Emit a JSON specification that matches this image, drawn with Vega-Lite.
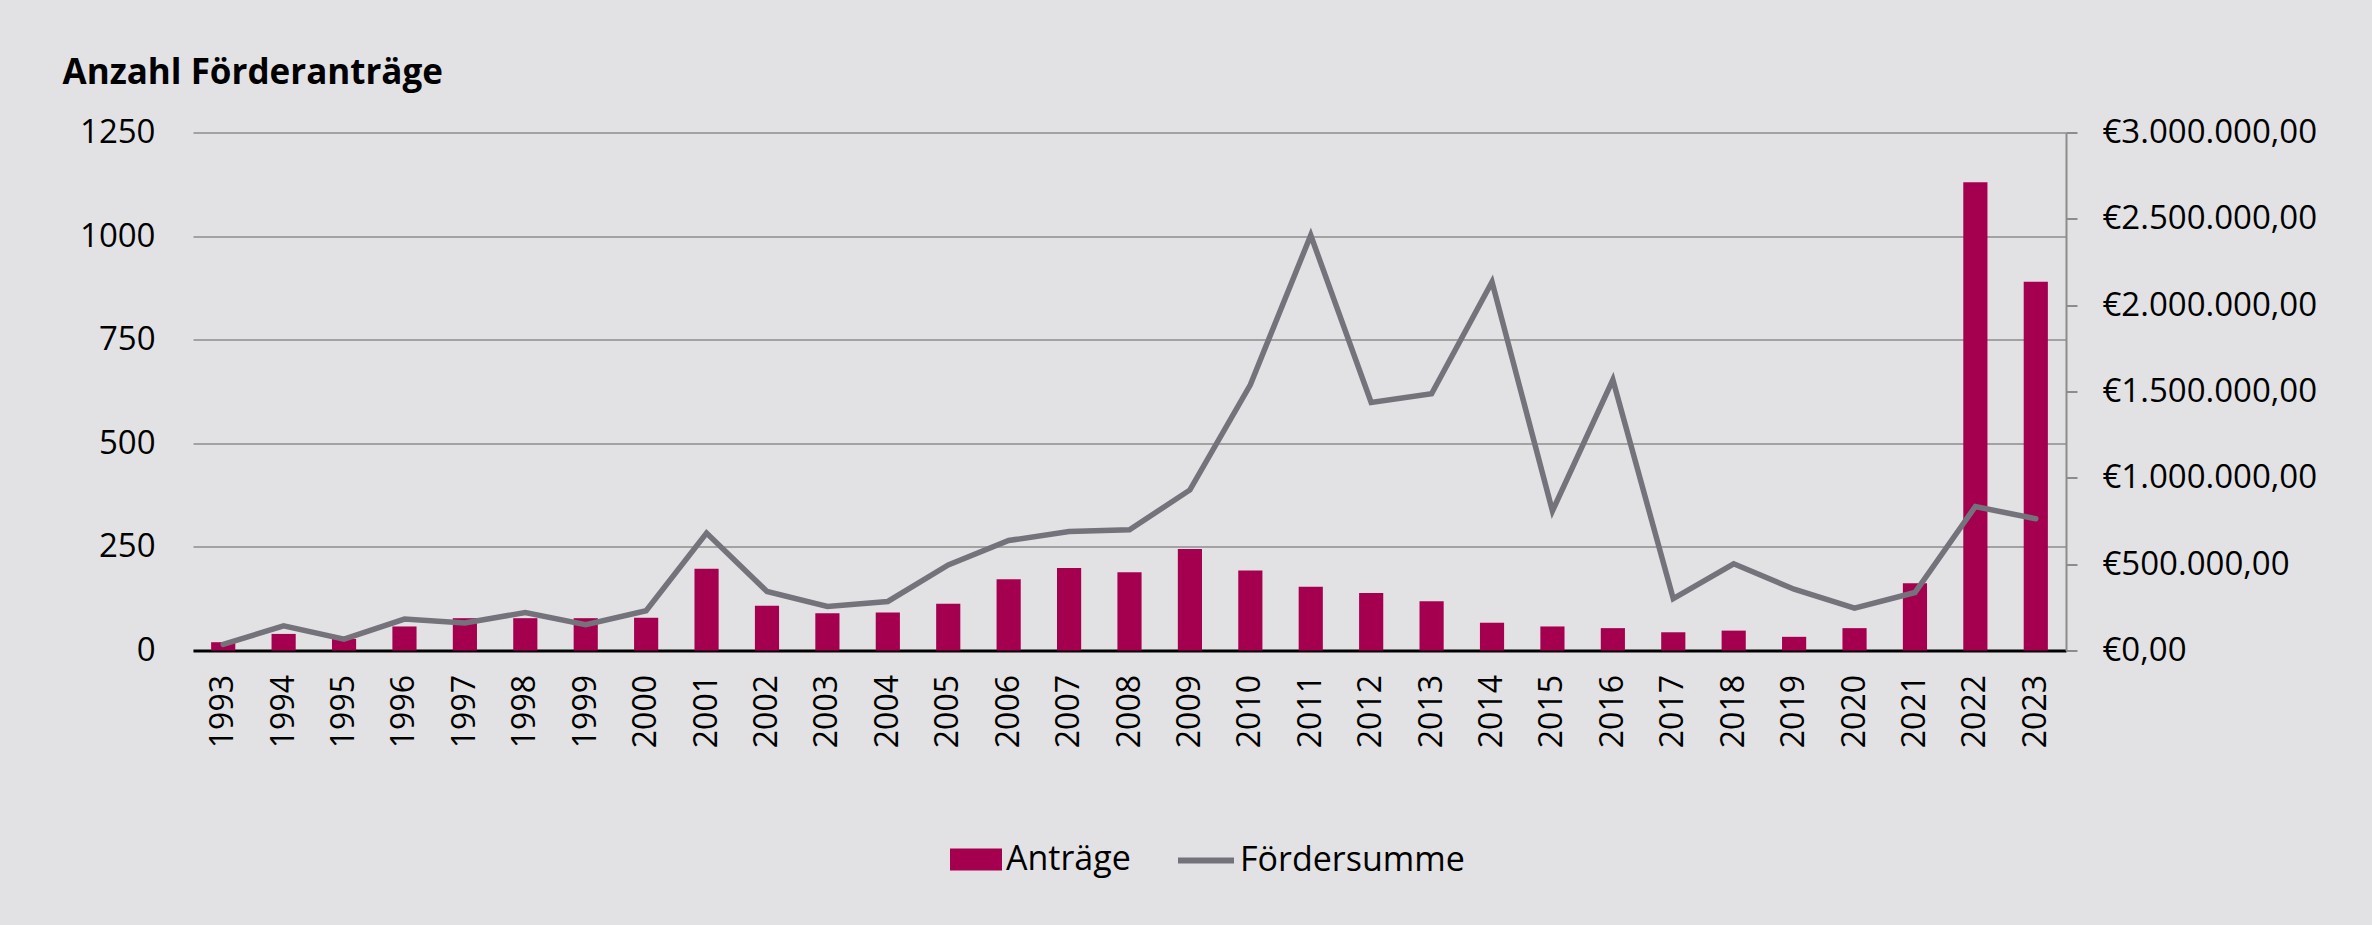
{
  "$schema": "https://vega.github.io/schema/vega-lite/v6.json",
  "width": 1873,
  "height": 518,
  "autosize": {"type": "none"},
  "padding": {"left": 193, "top": 132.5, "right": 306, "bottom": 274.5},
  "background": "#e2e2e4",
  "config": {
    "view": {"stroke": null},
    "font": "Open Sans",
    "locale": {
      "number": {"decimal": ",", "thousands": ".", "grouping": [3], "currency": ["€", ""]}
    },
    "axis": {"labelFont": "Open Sans", "labelColor": "#000000", "titleColor": "#000000", "labelLimit": 400},
    "legend": {"labelFont": "Open Sans", "labelColor": "#000000", "labelLimit": 400}
  },
  "data": {
    "values": [
      {"Jahr": "1993", "Antraege": 20, "Foerdersumme": 35000},
      {"Jahr": "1994", "Antraege": 40, "Foerdersumme": 143000},
      {"Jahr": "1995", "Antraege": 28, "Foerdersumme": 66000},
      {"Jahr": "1996", "Antraege": 58, "Foerdersumme": 182000},
      {"Jahr": "1997", "Antraege": 78, "Foerdersumme": 160000},
      {"Jahr": "1998", "Antraege": 78, "Foerdersumme": 220000},
      {"Jahr": "1999", "Antraege": 78, "Foerdersumme": 150000},
      {"Jahr": "2000", "Antraege": 79, "Foerdersumme": 230000},
      {"Jahr": "2001", "Antraege": 197, "Foerdersumme": 680000},
      {"Jahr": "2002", "Antraege": 108, "Foerdersumme": 342000},
      {"Jahr": "2003", "Antraege": 90, "Foerdersumme": 255000},
      {"Jahr": "2004", "Antraege": 92, "Foerdersumme": 284000},
      {"Jahr": "2005", "Antraege": 113, "Foerdersumme": 496000},
      {"Jahr": "2006", "Antraege": 172, "Foerdersumme": 637000},
      {"Jahr": "2007", "Antraege": 199, "Foerdersumme": 689000},
      {"Jahr": "2008", "Antraege": 189, "Foerdersumme": 699000},
      {"Jahr": "2009", "Antraege": 245, "Foerdersumme": 930000},
      {"Jahr": "2010", "Antraege": 193, "Foerdersumme": 1539000},
      {"Jahr": "2011", "Antraege": 154, "Foerdersumme": 2405000},
      {"Jahr": "2012", "Antraege": 139, "Foerdersumme": 1436000},
      {"Jahr": "2013", "Antraege": 119, "Foerdersumme": 1487000},
      {"Jahr": "2014", "Antraege": 67, "Foerdersumme": 2135000},
      {"Jahr": "2015", "Antraege": 58, "Foerdersumme": 808000},
      {"Jahr": "2016", "Antraege": 54, "Foerdersumme": 1568000},
      {"Jahr": "2017", "Antraege": 44, "Foerdersumme": 300000},
      {"Jahr": "2018", "Antraege": 48, "Foerdersumme": 502000},
      {"Jahr": "2019", "Antraege": 33, "Foerdersumme": 355000},
      {"Jahr": "2020", "Antraege": 54, "Foerdersumme": 245000},
      {"Jahr": "2021", "Antraege": 162, "Foerdersumme": 336000},
      {"Jahr": "2022", "Antraege": 1130, "Foerdersumme": 834000},
      {"Jahr": "2023", "Antraege": 890, "Foerdersumme": 763000}
    ]
  },
  "encoding": {
    "x": {
      "field": "Jahr",
      "type": "ordinal",
      "scale": {"paddingInner": 0.6, "paddingOuter": 0.3},
      "axis": {
        "title": null,
        "labelAngle": -90,
        "labelFontSize": 32,
        "labelPadding": 24,
        "ticks": false,
        "domainColor": "#000000",
        "domainWidth": 3,
        "grid": false
      }
    }
  },
  "layer": [
    {
      "mark": {"type": "bar"},
      "encoding": {
        "y": {
          "field": "Antraege",
          "type": "quantitative",
          "scale": {"domain": [0, 1250]},
          "axis": {
            "values": [0, 250, 500, 750, 1000, 1250],
            "format": "d",
            "title": "Anzahl Förderanträge",
            "titleAngle": 0,
            "titleFontSize": 35,
            "titleFontWeight": "bold",
            "titleAlign": "left",
            "titleBaseline": "alphabetic",
            "titleX": -131,
            "titleY": -49,
            "labelFontSize": 33,
            "labelPadding": 38,
            "ticks": false,
            "domain": false,
            "grid": true,
            "gridColor": "#8c8c8c",
            "gridWidth": 1.5
          }
        },
        "fill": {
          "datum": "Anträge",
          "scale": {"range": ["#a50050"]},
          "legend": {
            "title": null,
            "orient": "none",
            "legendX": 757,
            "legendY": 701,
            "symbolType": "M-1,-0.42H1V0.42H-1Z",
            "symbolSize": 2704,
            "symbolStrokeWidth": 0,
            "labelFontSize": 34,
            "labelOffset": 4
          }
        }
      }
    },
    {
      "mark": {"type": "line", "strokeWidth": 5.5, "strokeCap": "round"},
      "encoding": {
        "y": {
          "field": "Foerdersumme",
          "type": "quantitative",
          "scale": {"domain": [0, 3000000]},
          "axis": {
            "orient": "right",
            "values": [0, 500000, 1000000, 1500000, 2000000, 2500000, 3000000],
            "format": "$,.2f",
            "title": null,
            "labelFontSize": 33,
            "labelPadding": 25,
            "tickSize": 11,
            "tickColor": "#8c8c8c",
            "tickWidth": 2,
            "domainColor": "#8c8c8c",
            "domainWidth": 2,
            "grid": false
          }
        },
        "stroke": {
          "datum": "Fördersumme",
          "scale": {"range": ["#74737b"]},
          "legend": {
            "title": null,
            "orient": "none",
            "legendX": 982,
            "legendY": 697,
            "symbolType": "stroke",
            "symbolSize": 3136,
            "symbolStrokeWidth": 6,
            "labelFontSize": 34,
            "labelOffset": 3
          }
        }
      }
    }
  ],
  "resolve": {"scale": {"y": "independent"}}
}
